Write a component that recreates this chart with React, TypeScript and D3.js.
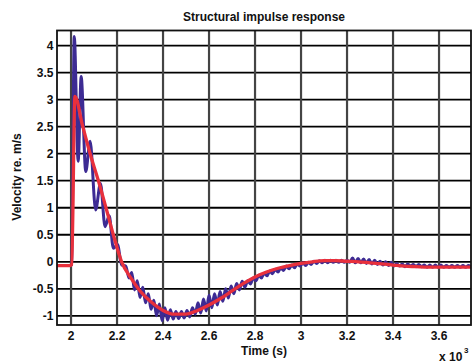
import React from "react";
import * as d3 from "d3";

const TITLE = "Structural impulse response";
const X_LABEL = "Time (s)";
const Y_LABEL = "Velocity re. m/s";
const xTicks = [2, 2.2, 2.4, 2.6, 2.8, 3.0, 3.2, 3.4, 3.6];
const yTicks = [-1, -0.5, 0, 0.5, 1, 1.5, 2, 2.5, 3, 3.5, 4];
const xDomain = [1.939, 3.739];
const yDomain = [-1.17, 4.28];

// smoothed (red) response: [time x10^3 s, velocity]
const redTimes = [1.939, 1.993, 2.003, 2.017, 2.05, 2.083, 2.119, 2.152, 2.184, 2.22, 2.26, 2.3, 2.35, 2.4, 2.45, 2.5, 2.55, 2.6, 2.65, 2.7, 2.75, 2.8, 2.85, 2.9, 2.95, 3.0, 3.05, 3.1, 3.15, 3.2, 3.25, 3.3, 3.35, 3.4, 3.45, 3.5, 3.55, 3.6, 3.739];
const redValues = [-0.07, -0.07, -0.05, 3.06, 2.52, 2.0, 1.5, 1.0, 0.5, 0.0, -0.3, -0.54, -0.75, -0.9, -0.97, -0.97, -0.9, -0.8, -0.68, -0.54, -0.4, -0.28, -0.19, -0.12, -0.07, -0.03, 0.0, 0.02, 0.02, 0.01, 0.0, -0.02, -0.04, -0.06, -0.08, -0.09, -0.1, -0.1, -0.1];

// raw (blue) response, early part: irregular samples
const blueEarlyTimes = [1.939, 1.995, 2.003, 2.014, 2.031, 2.044, 2.064, 2.083, 2.107, 2.128, 2.148, 2.166, 2.184, 2.202, 2.22, 2.238, 2.252];
const blueEarlyValues = [-0.07, -0.07, -0.05, 4.17, 1.86, 3.43, 1.67, 2.23, 0.96, 1.45, 0.65, 0.85, 0.25, 0.32, -0.06, -0.08, -0.3];
// raw (blue) response, later part: samples every 0.012 from 2.264
const blueLateStart = 2.264;
const blueLateStep = 0.012;
const blueLateValues = [
  -0.2, -0.52, -0.35, -0.66, -0.47, -0.76, -0.59, -0.88,
  -0.71, -1.0, -0.78, -1.09, -0.85, -1.08, -0.89, -1.06,
  -0.92, -1.05, -0.92, -1.04, -0.9, -1.02, -0.85, -0.97,
  -0.76, -0.95, -0.69, -0.91, -0.62, -0.85, -0.59, -0.8, -0.55, -0.73, -0.5, -0.67, -0.45, -0.59, -0.4, -0.52, -0.36,
  -0.47, -0.35, -0.41, -0.3, -0.35, -0.25, -0.3, -0.21, -0.26, -0.17, -0.22, -0.14, -0.19, -0.11, -0.16, -0.08, -0.13, -0.06, -0.11, -0.04, -0.08, -0.02, -0.07, -0.01, -0.05,
  0.01, -0.03, 0.02, -0.02, 0.03, -0.02, 0.03, -0.01, 0.03, -0.01, 0.03, -0.01, 0.03,
  -0.01, 0.07, -0.02, 0.06, -0.02, 0.05, -0.03, 0.04, -0.04, 0.03, -0.05, 0.01, -0.06, 0.0, -0.07, -0.01, -0.08, -0.03, -0.08, -0.04, -0.09, -0.04,
  -0.08, -0.05, -0.09, -0.05, -0.09, -0.06, -0.1, -0.06, -0.1, -0.06, -0.1, -0.06, -0.1, -0.07, -0.1, -0.07, -0.1, -0.07, -0.1, -0.07, -0.1, -0.07, -0.1,
];

const W = 475;
const H = 364;
const M = { left: 57, right: 471, top: 30.5, bottom: 325 };
const FONT = "'Liberation Sans', Arial, sans-serif";

export default function App() {
  const x = d3.scaleLinear().domain(xDomain).range([M.left, M.right]);
  const y = d3.scaleLinear().domain(yDomain).range([M.bottom, M.top]);

  const redPts: [number, number][] = redTimes.map((t, i) => [t, redValues[i]]);
  const bluePts: [number, number][] = [
    ...blueEarlyTimes.map((t, i) => [t, blueEarlyValues[i]] as [number, number]),
    ...blueLateValues.map((v, i) => [blueLateStart + i * blueLateStep, v] as [number, number]),
  ];

  const line = d3
    .line<[number, number]>()
    .x((d) => x(d[0]))
    .y((d) => y(d[1]))
    .curve(d3.curveMonotoneX);

  return (
    <svg
      width={W}
      height={H}
      style={{ position: "absolute", left: 0, top: 0, background: "#fff" }}
      fontFamily={FONT}
    >
      <defs>
        <clipPath id="plotclip">
          <rect x={M.left} y={M.top} width={M.right - M.left} height={M.bottom - M.top} />
        </clipPath>
      </defs>
      <rect x={0} y={0} width={W} height={H} fill="#fff" />
      {/* grid */}
      {yTicks.map((v) => (
        <line key={"gy" + v} x1={M.left} x2={M.right} y1={y(v)} y2={y(v)} stroke="#000" strokeWidth={1.8} />
      ))}
      {xTicks.map((v) => (
        <line key={"gx" + v} x1={x(v)} x2={x(v)} y1={M.top} y2={M.bottom} stroke="#444" strokeWidth={2.2} />
      ))}
      {/* data */}
      <g clipPath="url(#plotclip)">
        <path d={line(bluePts) || ""} fill="none" stroke="#3d2b93" strokeWidth={3} strokeLinejoin="round" strokeLinecap="round" />
        <path d={line(redPts) || ""} fill="none" stroke="#e8303c" strokeWidth={3.3} strokeLinejoin="round" strokeLinecap="round" />
      </g>
      {/* frame */}
      <rect x={M.left} y={M.top} width={M.right - M.left} height={M.bottom - M.top} fill="none" stroke="#111" strokeWidth={1.8} />
      {/* tick labels */}
      {yTicks.map((v) => (
        <text key={"ty" + v} x={M.left - 3.5} y={y(v)} dy="0.36em" textAnchor="end" fontSize={12} fontWeight="bold" fill="#111">
          {String(v)}
        </text>
      ))}
      {xTicks.map((v) => (
        <text key={"tx" + v} x={x(v)} y={340} textAnchor="middle" fontSize={12} fontWeight="bold" fill="#111">
          {String(v)}
        </text>
      ))}
      {/* labels */}
      <text x={(M.left + M.right) / 2} y={21} textAnchor="middle" fontSize={12} fontWeight="bold" fill="#111">
        {TITLE}
      </text>
      <text x={(M.left + M.right) / 2} y={355} textAnchor="middle" fontSize={12} fontWeight="bold" fill="#111">
        {X_LABEL}
      </text>
      <text transform={`translate(21,177) rotate(-90)`} textAnchor="middle" fontSize={12} fontWeight="bold" fill="#111">
        {Y_LABEL}
      </text>
      <text x={439} y={361} fontSize={12} fontWeight="bold" fill="#111">
        x 10
      </text>
      <text x={464} y={353} fontSize={8} fontWeight="bold" fill="#111">
        3
      </text>
    </svg>
  );
}
